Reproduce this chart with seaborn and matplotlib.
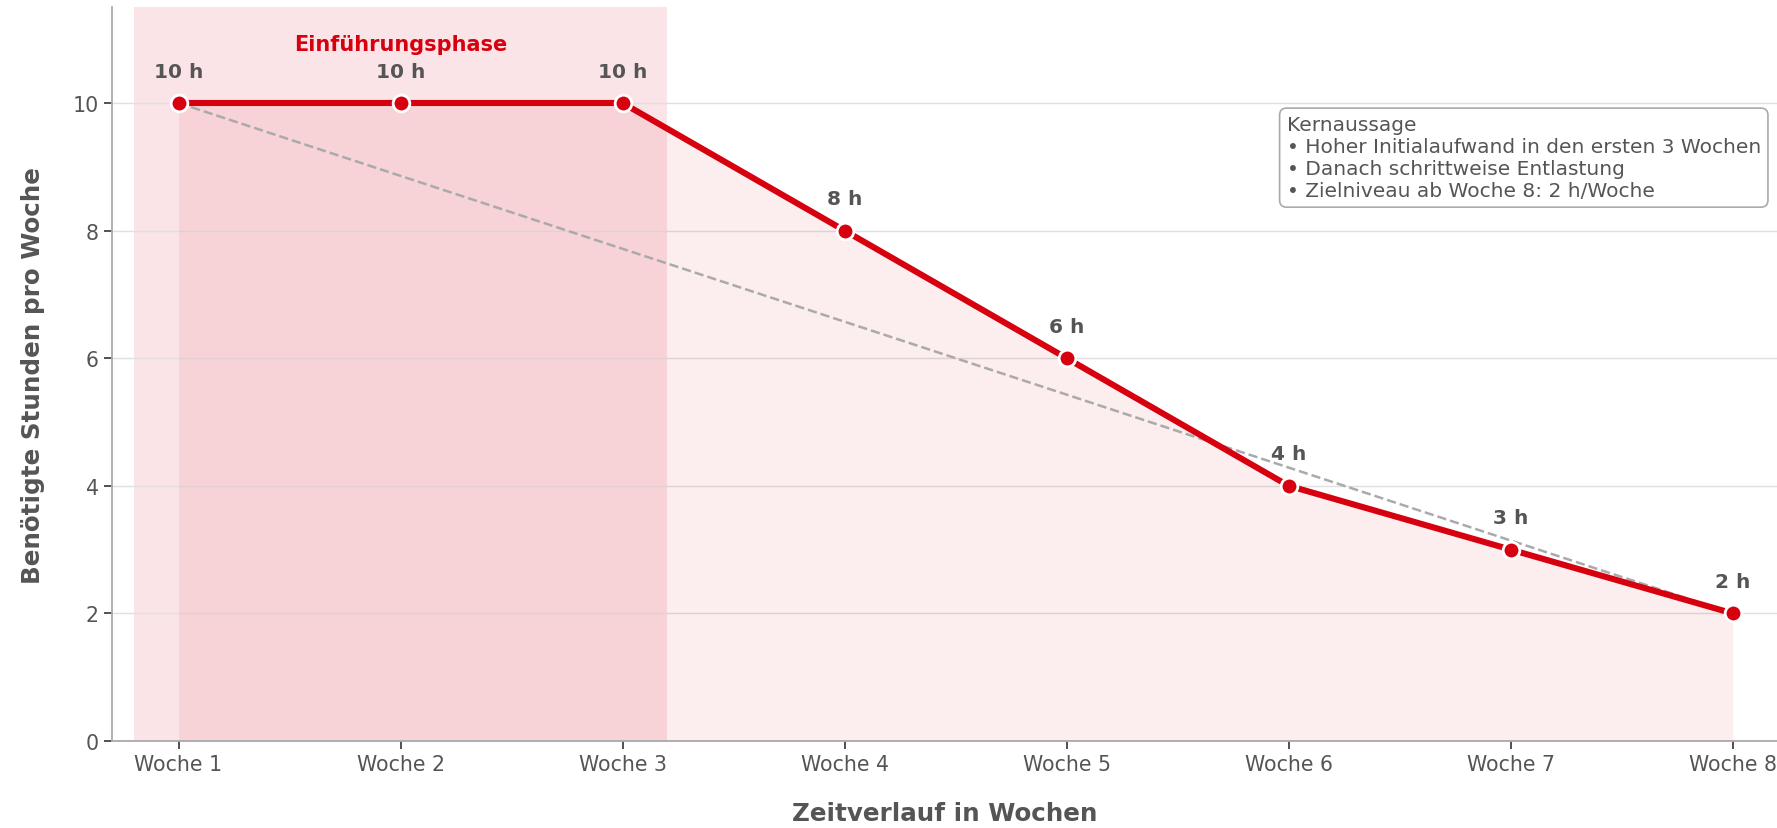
import numpy as np
import pandas as pd
import seaborn as sns
import matplotlib.pyplot as plt

wochen = ["Woche 1", "Woche 2", "Woche 3", "Woche 4", "Woche 5", "Woche 6", "Woche 7", "Woche 8"]
stunden = [10, 10, 10, 8, 6, 4, 3, 2]
trend_start, trend_ende = 10, 2
kern_titel = "Kernaussage"
kern_punkte = ["Hoher Initialaufwand in den ersten 3 Wochen",
               "Danach schrittweise Entlastung",
               "Zielniveau ab Woche 8: 2 h/Woche"]

ROT = "#d7000f"
GRAU = "#555555"

sns.set_theme(style="ticks")
plt.rcParams['font.family'] = ['DejaVu Sans']

df = pd.DataFrame({"x": np.arange(len(wochen)), "Stunden": stunden})

fig = plt.figure(figsize=(17.77, 8.29), dpi=100)
ax = fig.add_axes([0.063, 0.105, 0.937, 0.885])

# Einfuehrungsphase
ax.axvspan(-0.2, 2.2, color="#f3b8c0", alpha=0.38, lw=0, zorder=0)
ax.fill_between(df["x"], 0, df["Stunden"], color=ROT, alpha=0.07, lw=0, zorder=1)

# linearer Vergleich
ax.plot([df["x"].iloc[0], df["x"].iloc[-1]], [trend_start, trend_ende],
        ls="--", color="#aaaaaa", lw=1.8, zorder=2)

sns.lineplot(data=df, x="x", y="Stunden", ax=ax, color=ROT, lw=4.4, marker="o",
             markersize=12, markeredgecolor="white", markeredgewidth=2, zorder=3)

for xi, yi in zip(df["x"], df["Stunden"]):
    ax.annotate(f"{yi} h", (xi, yi), xytext=(0, 23), textcoords="offset points",
                ha="center", va="center", fontsize=14.5, fontweight="bold", color=GRAU)

ax.text(1, 10.93, "Einführungsphase", ha="center", va="center", fontsize=15,
        fontweight="bold", color=ROT)

box_text = kern_titel + "\n" + "\n".join("• " + p for p in kern_punkte)
ax.text(0.7055, 0.853, box_text, transform=ax.transAxes, ha="left", va="top",
        fontsize=14.5, color=GRAU, linespacing=1.2,
        bbox=dict(boxstyle="round,pad=0.35", fc="white", ec="#aaaaaa", lw=1.2))

ax.set_xlim(-0.3, 7.2)
ax.set_ylim(0, 11.5)
ax.set_xticks(df["x"])
ax.set_xticklabels(wochen)
ax.set_yticks([0, 2, 4, 6, 8, 10])
ax.tick_params(axis="both", labelsize=14.8, colors=GRAU, length=6, width=1.2)
ax.tick_params(axis="both", color="#333333")
ax.yaxis.grid(True, color="#e0e0e0", lw=1)
ax.set_axisbelow(True)
ax.set_xlabel("Zeitverlauf in Wochen", fontsize=17.7, fontweight="bold", color=GRAU, labelpad=19)
ax.set_ylabel("Benötigte Stunden pro Woche", fontsize=17.7, fontweight="bold", color=GRAU, labelpad=20)
for s in ["left", "bottom"]:
    ax.spines[s].set_color("#aaaaaa")
    ax.spines[s].set_linewidth(1.3)
sns.despine(ax=ax)

fig.savefig("out.png", dpi=100)
